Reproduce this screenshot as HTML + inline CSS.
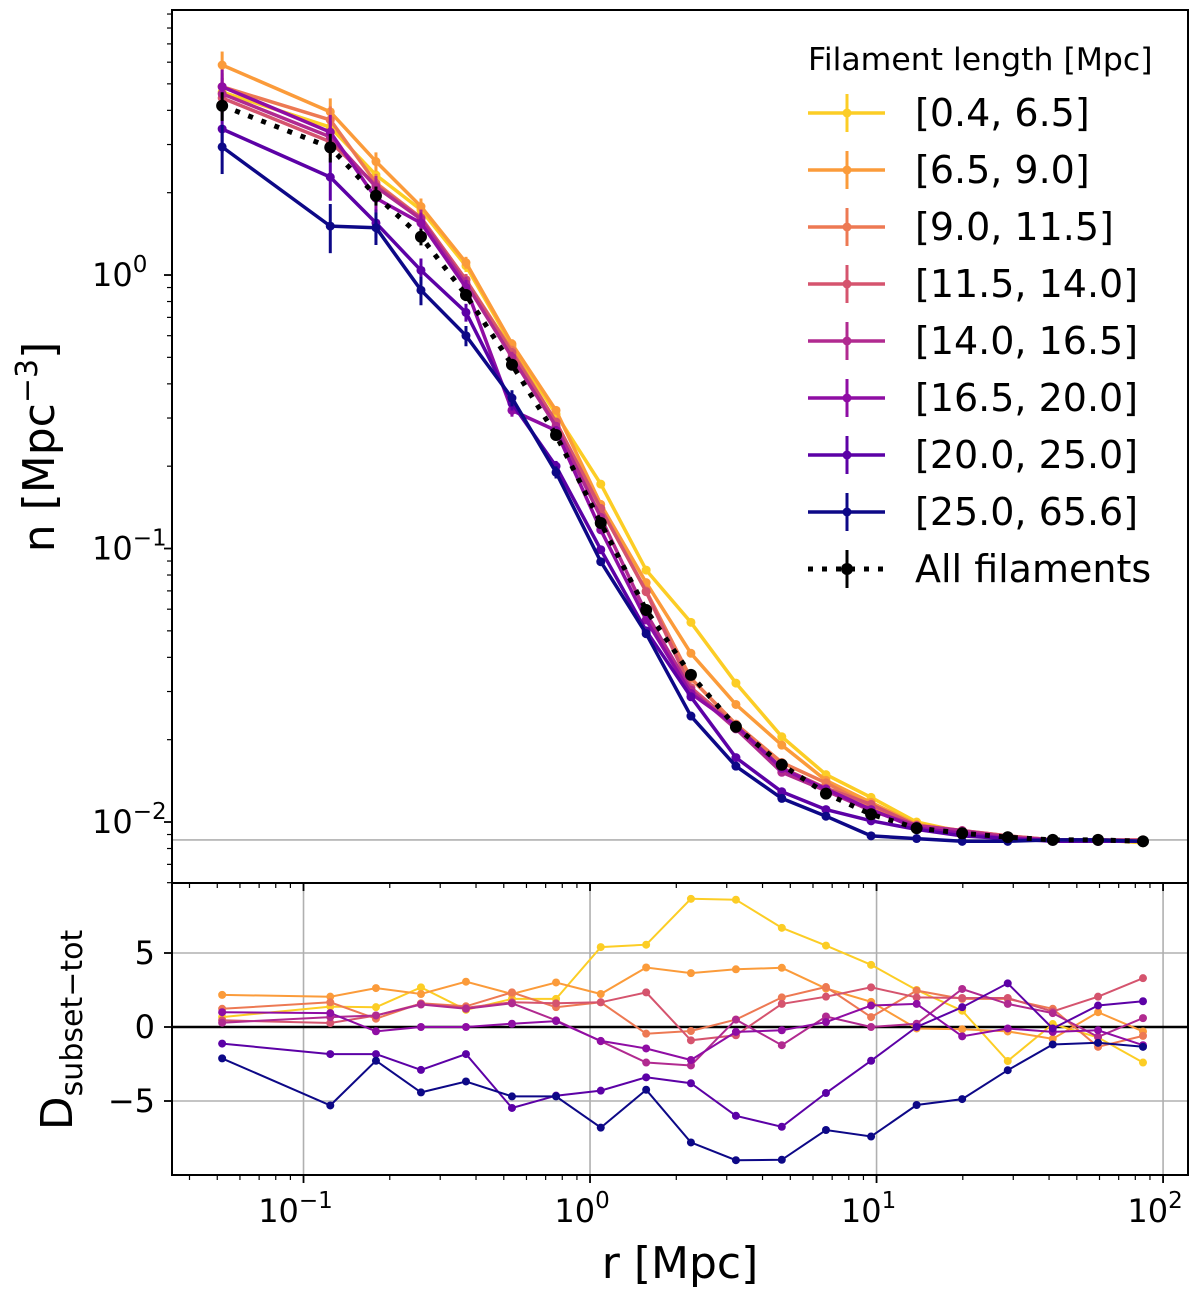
<!DOCTYPE html>
<html><head><meta charset="utf-8">
<style>
html,body{margin:0;padding:0;background:#fff;}
svg{display:block;font-family:"DejaVu Sans","Liberation Sans",sans-serif;}
</style></head>
<body>
<svg id="chart" width="1200" height="1291" viewBox="0 0 1200 1291" xmlns="http://www.w3.org/2000/svg"></svg>
<script>
const radii = [0.052,0.124,0.179,0.257,0.369,0.534,0.761,1.09,1.57,2.25,3.23,4.67,6.66,9.57,13.8,19.9,28.7,41.2,59.3,85.1];
const seriesLabels = ["[0.4, 6.5]","[6.5, 9.0]","[9.0, 11.5]","[11.5, 14.0]","[14.0, 16.5]","[16.5, 20.0]","[20.0, 25.0]","[25.0, 65.6]"];
const seriesColors = ["#fccd25","#fb9b3a","#ed7953","#d5546e","#b12a90","#8f0da4","#5c01a6","#0d0887"];
const nYellow  = [4.67,3.47,2.32,1.73,1.08,0.55,0.31,0.172,0.0834,0.0537,0.0322,0.0205,0.0149,0.0123,0.0100,0.0092,0.0088,0.0086,0.0086,0.0084];
const nOrange  = [5.86,3.95,2.6,1.78,1.11,0.56,0.32,0.145,0.075,0.0414,0.0269,0.0191,0.0142,0.0118,0.0098,0.0093,0.0088,0.0086,0.0086,0.0085];
const nSalmon  = [4.88,3.69,2.17,1.62,0.96,0.53,0.29,0.14,0.07,0.0335,0.0228,0.0165,0.0139,0.0114,0.0097,0.0093,0.0089,0.0086,0.0085,0.0085];
const nPink    = [4.44,3.07,2.13,1.62,0.96,0.52,0.29,0.14,0.0695,0.031,0.0225,0.0158,0.0133,0.0116,0.0097,0.0093,0.0089,0.0086,0.0086,0.0086];
const nMagenta = [4.6,3.2,2.1,1.6,0.93,0.5,0.28,0.13,0.058,0.0304,0.0219,0.0152,0.0130,0.011,0.0097,0.0093,0.0088,0.0086,0.0086,0.0085];
const nPurple  = [4.88,3.33,1.91,1.55,0.9,0.32,0.27,0.117,0.0548,0.0295,0.0225,0.0157,0.0132,0.0111,0.0095,0.0091,0.0087,0.0086,0.0085,0.0085];
const nIndigo  = [3.42,2.28,1.55,1.04,0.73,0.34,0.2,0.099,0.05,0.0287,0.0172,0.0129,0.0111,0.0101,0.0094,0.0089,0.0087,0.0085,0.0085,0.0085];
const nNavy    = [2.94,1.51,1.49,0.88,0.6,0.355,0.19,0.0895,0.0488,0.0244,0.016,0.0122,0.0105,0.0089,0.0087,0.0085,0.0085,0.0086,0.0086,0.0085];
const nAll     = [4.16,2.93,1.95,1.38,0.845,0.47,0.26,0.124,0.0596,0.0345,0.0223,0.0162,0.0127,0.01067,0.0095,0.0091,0.0088,0.0086,0.0086,0.0085];
const relErr   = [0.12,0.12,0.08,0.07,0.05,0.04,0.03,0.02,0.02,0.02,0.02,0.02,0.01,0.01,0.01,0.01,0.01,0.01,0.01,0.01];
const errScale = [1,1,1,1,1.2,1.3,1.5,1.7];
const dYellow  = [0.67,1.38,1.34,2.68,1.16,1.9,1.9,5.4,5.56,8.66,8.6,6.7,5.5,4.2,2.5,1.1,-2.3,0.2,-0.7,-2.4];
const dOrange  = [2.17,2.05,2.63,2.23,3.06,2.23,3.01,2.23,4.02,3.64,3.9,4.0,2.6,1.7,-0.1,-0.15,-0.3,-0.8,1.0,-0.3];
const dSalmon  = [1.23,1.67,0.56,1.6,1.4,2.34,1.34,1.67,-0.45,-0.27,0.5,2.0,2.7,0.67,2.46,1.9,1.9,1.23,-1.34,-0.6];
const dPink    = [0.45,0.27,0.78,1.56,1.3,1.67,1.6,1.67,2.34,-0.9,-0.56,1.56,2.05,2.68,2.0,1.96,1.96,1.05,2.05,3.3];
const dMagenta = [0.29,0.67,0.78,1.52,1.23,1.6,0.45,-0.96,-2.4,-2.6,0.5,-1.23,0.71,0,0.22,2.57,1.56,0.94,-0.67,0.6];
const dPurple  = [1.0,0.94,-0.29,0,0,0.22,0.4,-0.94,-1.45,-2.23,-0.33,-0.22,0.33,1.45,1.56,-0.63,-0.1,-0.33,-0.22,-1.23];
const dIndigo  = [-1.12,-1.83,-1.83,-2.9,-1.83,-5.47,-4.64,-4.3,-3.4,-3.8,-6.0,-6.74,-4.46,-2.28,0,1.34,2.95,-0.1,1.45,1.74];
const dNavy    = [-2.12,-5.3,-2.28,-4.42,-3.68,-4.69,-4.69,-6.8,-4.24,-7.8,-9.0,-8.97,-6.96,-7.4,-5.27,-4.87,-2.92,-1.18,-1.07,-1.34];
const xTickLabels = ["10","10","10","10"];
const xTickExps = ["−1","0","1","2"];
const xTickVals = [0.1,1,10,100];
const yTopTickVals = [1,0.1,0.01];
const yTopTickExps = ["0","−1","−2"];
const yBotTickVals = [5,0,-5];
const yBotTickLabels = ["5","0","−5"];
const bgLevel = 0.0086;

const nSeries = [nYellow,nOrange,nSalmon,nPink,nMagenta,nPurple,nIndigo,nNavy];
const dSeries = [dYellow,dOrange,dSalmon,dPink,dMagenta,dPurple,dIndigo,dNavy];

const NS="http://www.w3.org/2000/svg";
const svg=document.getElementById('chart');
const L=172,R=1188,T=10,MID=883,B=1175;
const xLo=-1.459,xHi=2.087, yTopHi=0.969, yTopLo=-2.223, yBotHi=9.73, yBotLo=-10.0;
function xs(r){return L+(Math.log10(r)-xLo)/(xHi-xLo)*(R-L);}
function ysTop(n){return T+(yTopHi-Math.log10(n))/(yTopHi-yTopLo)*(MID-T);}
function ysBot(d){return MID+(yBotHi-d)/(yBotHi-yBotLo)*(B-MID);}
function mk(tag,attrs,parent){const e=document.createElementNS(NS,tag);for(const k in attrs)e.setAttribute(k,attrs[k]);(parent||svg).appendChild(e);return e;}

const defs=mk('defs',{});
const c1=mk('clipPath',{id:'clipTop'},defs); mk('rect',{x:L,y:T,width:R-L,height:MID-T},c1);
const c2=mk('clipPath',{id:'clipBot'},defs); mk('rect',{x:L,y:MID,width:R-L,height:B-MID},c2);

const gGrid=mk('g',{});


xTickVals.forEach(v=>{const x=xs(v);const ln=mk('line',{x1:x,x2:x,y1:MID,y2:B,stroke:'#b0b0b0','stroke-width':1.6},gGrid);

});
yBotTickVals.forEach(v=>{const y=ysBot(v);const ln=mk('line',{x1:L,x2:R,y1:y,y2:y,stroke:v===0?'#000':'#b0b0b0','stroke-width':v===0?2.5:1.6},gGrid);

});
const bg=mk('line',{x1:L,x2:R,y1:ysTop(bgLevel),y2:ysTop(bgLevel),stroke:'#b0b0b0','stroke-width':1.6});



const gTop=mk('g',{'clip-path':'url(#clipTop)'});
function drawTop(vals,color,sidx,dotted,name){
  const g=mk('g',{},gTop);
  
  
  const sc=sidx<0?1:errScale[sidx];
  vals.forEach((v,i)=>{const x=xs(radii[i]);const e=relErr[i]*sc;
    const eb=mk('line',{x1:x,x2:x,y1:ysTop(v*(1+e)),y2:ysTop(v*(1-e)),stroke:color,'stroke-width':3},g);
    
    });
  const pts=vals.map((v,i)=>xs(radii[i]).toFixed(1)+','+ysTop(v).toFixed(1)).join(' ');
  const pl=mk('polyline',{points:pts,fill:'none',stroke:color,'stroke-width':dotted?5:3.5,'stroke-linejoin':'round'},g);
  if(dotted)pl.setAttribute('stroke-dasharray','5,9');
  
  
  vals.forEach((v,i)=>{const c=mk('circle',{cx:xs(radii[i]),cy:ysTop(v),r:dotted?6:4.5,fill:color},g);
    
    });
}
nSeries.forEach((s,k)=>drawTop(s,seriesColors[k],k,false,'top-series-'+(k+1)));
drawTop(nAll,'#000',-1,true,'top-series-all');

const gBot=mk('g',{'clip-path':'url(#clipBot)'});
dSeries.forEach((s,k)=>{
  const g=mk('g',{},gBot);
  
  
  const pts=s.map((v,i)=>xs(radii[i]).toFixed(1)+','+ysBot(v).toFixed(1)).join(' ');
  const pl=mk('polyline',{points:pts,fill:'none',stroke:seriesColors[k],'stroke-width':2},g);
  
  
  s.forEach((v,i)=>{const c=mk('circle',{cx:xs(radii[i]),cy:ysBot(v),r:4,fill:seriesColors[k]},g);
    
    });
});

const f1=mk('rect',{x:L,y:T,width:R-L,height:MID-T,fill:'none',stroke:'#000','stroke-width':2});


const f2=mk('rect',{x:L,y:MID,width:R-L,height:B-MID,fill:'none',stroke:'#000','stroke-width':2});



const gT=mk('g',{stroke:'#000'});


for(let d=-2;d<=2;d++)for(let m=1;m<10;m++){const v=m*Math.pow(10,d);const lv=Math.log10(v);if(lv<xLo||lv>xHi)continue;const x=xs(v);
  const big=m===1;
  mk('line',{x1:x,x2:x,y1:B,y2:B+(big?8:5),'stroke-width':big?1.8:1.2},gT);
  mk('line',{x1:x,x2:x,y1:MID,y2:MID+(big?8:5),'stroke-width':big?1.8:1.2},gT);}
for(let d=-3;d<=1;d++)for(let m=1;m<10;m++){const v=m*Math.pow(10,d);const lv=Math.log10(v);if(lv<yTopLo||lv>yTopHi)continue;const y=ysTop(v);
  const big=m===1;mk('line',{x1:L,x2:L-(big?8:5),y1:y,y2:y,'stroke-width':big?1.8:1.2},gT);}
yBotTickVals.forEach(v=>{const y=ysBot(v);mk('line',{x1:L,x2:L-8,y1:y,y2:y,'stroke-width':1.8},gT);});

function txt(x,y,s,size,anchor,name,extra){const t=mk('text',Object.assign({x:x,y:y,'font-size':size,'text-anchor':anchor||'middle',fill:'#000'},extra||{}));t.textContent=s;
  
  return t;}
xTickVals.forEach((v,i)=>{const t=txt(xs(v)-8,1222,xTickLabels[i],32,'middle','x-tick-label');const sp=mk('tspan',{dy:-14,'font-size':23},t);sp.textContent=xTickExps[i];});
yTopTickVals.forEach((v,i)=>{const t=txt(142,ysTop(v)+11,'10',32,'end','y-tick-label');const sp=mk('tspan',{dy:-14,'font-size':23},t);sp.textContent=yTopTickExps[i];
  t.setAttribute('text-anchor','start');t.setAttribute('x',92);});
yBotTickVals.forEach((v,i)=>{txt(155,ysBot(v)+11,yBotTickLabels[i],32,'end','y-tick-label-bottom');});
txt(680,1278,'r [Mpc]',44,'middle','x-axis-title');
const yt=txt(0,0,'n [Mpc',44,'middle','y-axis-title-top',{transform:'translate(54,447) rotate(-90)'});
const ys1=mk('tspan',{dy:-17,'font-size':30},yt);ys1.textContent='−3';
const ys2=mk('tspan',{dy:17},yt);ys2.textContent=']';
const yb=txt(0,0,'D',44,'middle','y-axis-title-bottom',{transform:'translate(72,1030) rotate(-90)'});
const yb1=mk('tspan',{dy:10,'font-size':30},yb);yb1.textContent='subset−tot';

const gL=mk('g',{});


const lt=txt(808,70,'Filament length [Mpc]',31.5,'start','legend-title');
const legLabels=seriesLabels.concat(['All filaments']);
const legColors=seriesColors.concat(['#000']);
legLabels.forEach((lab,i)=>{const y=113+57*i;const g=mk('g',{},gL);
  
  
  const last=i===legLabels.length-1;
  const l=mk('line',{x1:808,x2:885,y1:y,y2:y,stroke:legColors[i],'stroke-width':last?5:3.5},g);
  if(last)l.setAttribute('stroke-dasharray','5,9');
  mk('line',{x1:847,x2:847,y1:y-19,y2:y+19,stroke:legColors[i],'stroke-width':3},g);
  mk('circle',{cx:847,cy:y,r:last?6:4.5,fill:legColors[i]},g);
  const t=mk('text',{x:915,y:y+13,'font-size':38,fill:'#000'},g);t.textContent=lab;
  
  
});
</script>
</body></html>
